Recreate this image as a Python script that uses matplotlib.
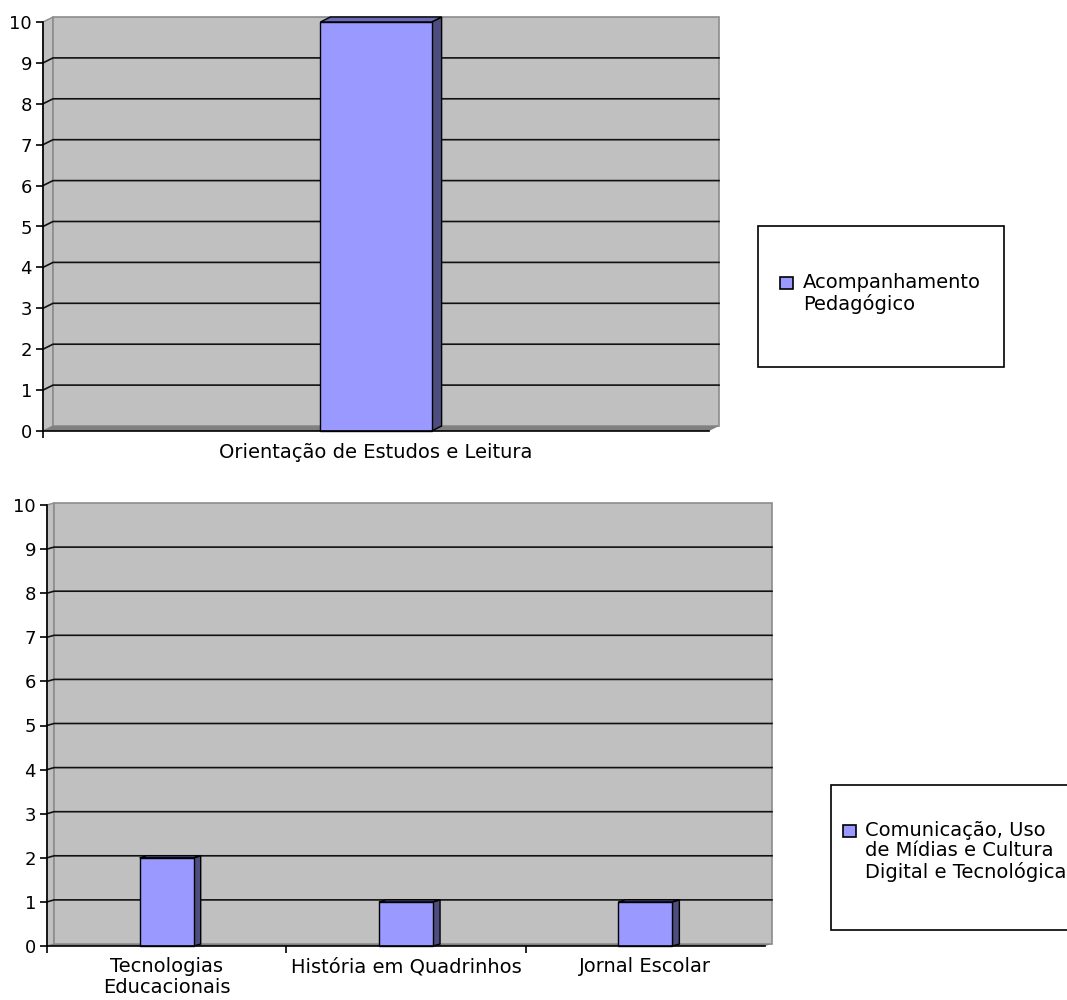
import matplotlib
matplotlib.use("Agg")
import matplotlib.pyplot as plt
from matplotlib.patches import Rectangle, Polygon

W, H = 1067, 1000

# data
top_categories = ["Orientação de Estudos e Leitura"]
top_values = [10]
top_series = "Acompanhamento\nPedagógico"

bottom_categories = ["Tecnologias\nEducacionais", "História em Quadrinhos", "Jornal Escolar"]
bottom_values = [2, 1, 1]
bottom_series = "Comunicação, Uso\nde Mídias e Cultura\nDigital e Tecnológica"

y_max = 10

FRONT = "#9999ff"
SIDE = "#4d4d80"
TOP = "#6b6bb3"
WALL = "#c0c0c0"
WALL_EDGE = "#8c8c8c"
FLOOR = "#808080"

plt.rcParams["font.family"] = ["DejaVu Sans"]
plt.rcParams["font.size"] = 13
LABEL_SIZE = 14

fig = plt.figure(figsize=(W / 100, H / 100), dpi=100)


def px_axes(x0, y_bottom, x1, y_top):
    return fig.add_axes([x0 / W, 1 - y_bottom / H, (x1 - x0) / W, (y_bottom - y_top) / H])


def bar3d_chart(ax, cats, vals, bar_w, dx_px, dy_px, label_pad):
    """Excel-like 3D column chart: back wall, floor, gridlines, prism bars."""
    n = len(cats)
    x0, x1 = -0.5, n - 0.5
    ax.set_xlim(x0, x1)
    ax.set_ylim(0, y_max)
    bb = ax.get_window_extent()
    dx = dx_px * n / bb.width
    dy = dy_px * y_max / bb.height
    kw = dict(clip_on=False)

    # side wall + back wall
    ax.add_patch(Polygon([(x0, 0), (x0, y_max), (x0 + dx, y_max + dy), (x0 + dx, dy)],
                         facecolor=WALL, edgecolor=WALL_EDGE, lw=1, zorder=0.5, **kw))
    ax.add_patch(Rectangle((x0 + dx, dy), x1 - x0, y_max, facecolor=WALL,
                           edgecolor=WALL_EDGE, lw=1.2, zorder=0.6, **kw))
    # gridlines
    for g in range(1, y_max):
        ax.plot([x0, x0 + dx, x1 + dx], [g, g + dy, g + dy], color="#111111", lw=1.2,
                zorder=0.8, **kw)
    # floor
    ax.add_patch(Polygon([(x0, 0), (x1, 0), (x1 + dx, dy), (x0 + dx, dy)],
                         facecolor=FLOOR, edgecolor="none", zorder=0.9, **kw))

    # bars
    bars = ax.bar(range(n), vals, width=bar_w, color=FRONT, edgecolor="black",
                  lw=1, zorder=2, **kw)
    for b, v in zip(bars, vals):
        xl, xr = b.get_x(), b.get_x() + b.get_width()
        ax.add_patch(Polygon([(xr, 0), (xr, v), (xr + dx, v + dy), (xr + dx, dy)],
                             facecolor=SIDE, edgecolor="black", lw=1, zorder=1.9, **kw))
        ax.add_patch(Polygon([(xl, v), (xr, v), (xr + dx, v + dy), (xl + dx, v + dy)],
                             facecolor=TOP, edgecolor="black", lw=1, zorder=1.9, **kw))

    ax.set_facecolor("none")
    for s in ("top", "right"):
        ax.spines[s].set_visible(False)
    for s in ("left", "bottom"):
        ax.spines[s].set_color("black")
        ax.spines[s].set_linewidth(1.2)
    ax.set_yticks(range(0, y_max + 1))
    ax.tick_params(axis="y", direction="out", length=5, width=1.2, pad=3)
    ax.set_xticks([x0] + [i + 0.5 for i in range(n - 1)])
    ax.set_xticklabels([])
    ax.tick_params(axis="x", which="major", direction="out", length=5, width=1.2)
    ax.set_xticks(range(n), minor=True)
    ax.set_xticklabels(cats, minor=True, linespacing=1.1, fontsize=LABEL_SIZE)
    ax.tick_params(axis="x", which="minor", length=0, pad=label_pad)
    return bars


def legend_box(bars, label, box, key_xy, text_xy):
    """Excel-style legend: big framed box, key square next to the first text line."""
    bx0, by0, bx1, by1 = box
    fig.add_artist(Rectangle((bx0 / W, 1 - by1 / H), (bx1 - bx0) / W, (by1 - by0) / H,
                             transform=fig.transFigure, facecolor="white",
                             edgecolor="black", lw=1.2))
    kx, ky = key_xy
    fig.add_artist(Rectangle((kx / W, 1 - (ky + 12) / H), 13 / W, 12 / H,
                             transform=fig.transFigure, facecolor=bars[0].get_facecolor(),
                             edgecolor="black", lw=1.2))
    fig.text(text_xy[0] / W, 1 - text_xy[1] / H, label, ha="left", va="top",
             fontsize=LABEL_SIZE, linespacing=1.1)


ax_top = px_axes(43, 431, 709, 22)
bars_top = bar3d_chart(ax_top, top_categories, top_values, 0.167, 10, 5, 9)
legend_box(bars_top, top_series, (758, 226, 1004, 367), (780, 277), (803, 273))

ax_bot = px_axes(47, 946, 765, 505)
bars_bot = bar3d_chart(ax_bot, bottom_categories, bottom_values, 0.226, 7, 2, 8)
legend_box(bars_bot, bottom_series, (831, 785, 1100, 930), (843, 825), (865, 821))

fig.savefig("out.png", dpi=100)
